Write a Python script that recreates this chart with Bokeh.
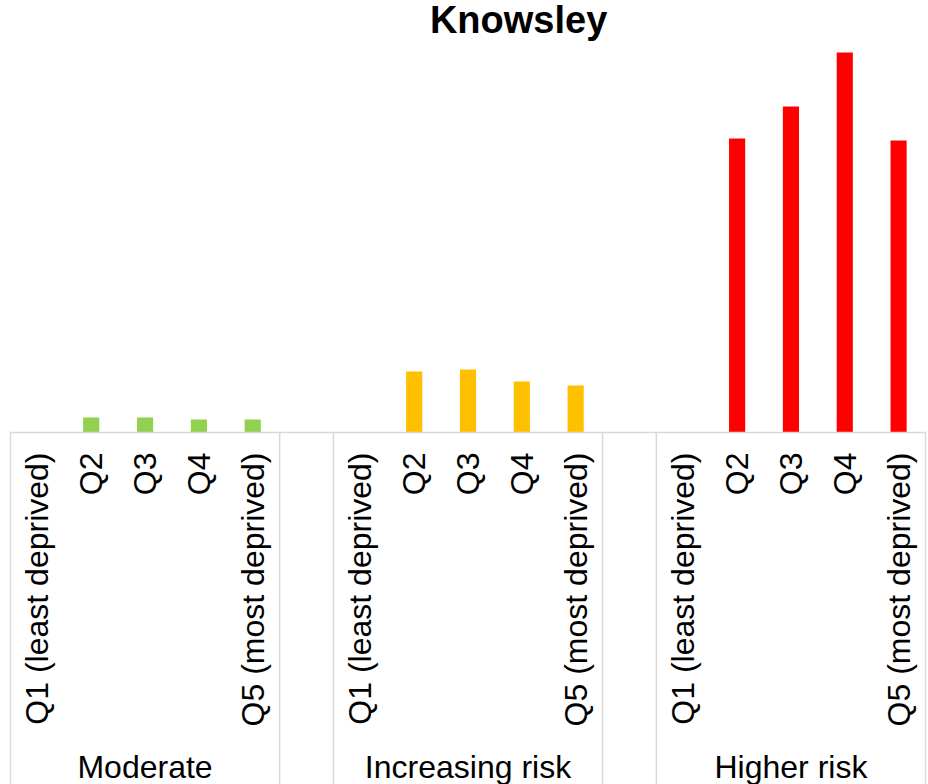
import math
from bokeh.plotting import figure
from bokeh.models import Range1d
from bokeh.core.properties import value
from bokeh.embed import file_html
from bokeh.resources import INLINE

# ---- data ----
title_text = "Knowsley"
groups = ["Moderate", "Increasing risk", "Higher risk"]
quintiles = ["Q1 (least deprived)", "Q2", "Q3", "Q4", "Q5 (most deprived)"]
moderate = [0, 1.5, 1.5, 1.3, 1.3]
increasing = [0, 6.1, 6.3, 5.1, 4.7]
higher = [0, 29.4, 32.6, 38.0, 29.2]
series = [moderate, increasing, higher]
colors = ["#92D050", "#FFC000", "#FF0000"]

FONT = value("Liberation Sans")
GRID = "#D9D9D9"

n_q = len(quintiles)
step = n_q + 1  # one blank category between groups
n_total = step * (len(groups) - 1) + n_q

x_start = -0.1858
x_end = n_total + 0.0557
y_start, y_end = -35.2, 43.2

p = figure(width=928, height=784, output_backend="svg", toolbar_location=None,
           x_range=Range1d(x_start, x_end), y_range=Range1d(y_start, y_end),
           x_axis_location=None, y_axis_location=None, min_border=0,
           background_fill_color="white", border_fill_color="white")
p.grid.visible = False
p.outline_line_color = None

# bars
xs, tops, cols = [], [], []
for k, vals in enumerate(series):
    for i, v in enumerate(vals):
        xs.append(k * step + i + 0.5)
        tops.append(v)
        cols.append(colors[k])
p.vbar(x=xs, top=tops, bottom=0, width=0.3, fill_color=cols, line_color=None)

# category axis line and group separators
p.segment(x0=[0], y0=[0], x1=[n_total], y1=[0], line_color=GRID, line_width=1.5)
bounds = []
for k in range(len(groups)):
    bounds += [k * step, k * step + n_q]
p.segment(x0=bounds, y0=[0] * len(bounds), x1=bounds, y1=[y_start] * len(bounds),
          line_color=GRID, line_width=1.5)

# tick labels (rotated)
lab_x, lab_t = [], []
for k in range(len(groups)):
    for i, q in enumerate(quintiles):
        lab_x.append(k * step + i + 0.5)
        lab_t.append(q)
p.text(x=lab_x, y=[-2.0] * len(lab_x), text=lab_t, angle=math.pi / 2,
       text_align="right", text_baseline="middle", text_font=FONT,
       text_font_size="32px", text_color="black")

# group labels
gx = [k * step + n_q / 2 for k in range(len(groups))]
p.text(x=gx, y=[-33.4] * len(gx), text=groups, text_align="center",
       text_baseline="alphabetic", text_font=FONT, text_font_size="32px",
       text_color="black")

# title
p.text(x=[9.44], y=[41.3], text=[title_text], text_align="center",
       text_baseline="alphabetic", text_font=FONT, text_font_size="38px",
       text_font_style="bold", text_color="black")

open("out.html", "w").write(file_html(p, INLINE))
